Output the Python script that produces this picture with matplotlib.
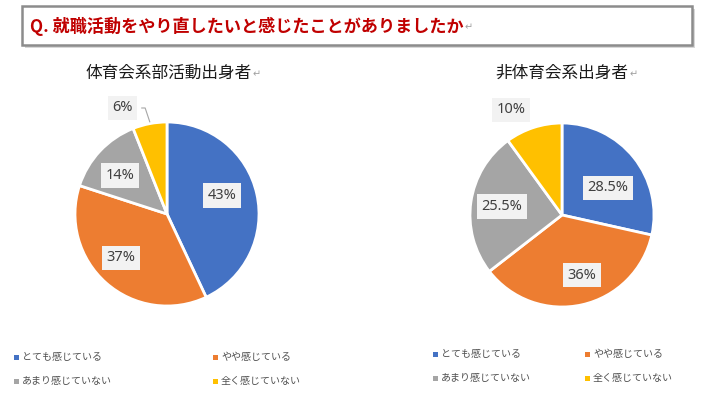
import numpy as np
import matplotlib
matplotlib.use("Agg")
import matplotlib.pyplot as plt
from matplotlib.patches import Rectangle

plt.rcParams['font.family'] = ['Noto Sans CJK JP', 'DejaVu Sans']

title = "Q. 就職活動をやり直したいと感じたことがありましたか"
categories = ["とても感じている", "やや感じている", "あまり感じていない", "全く感じていない"]
colors = ["#4472C4", "#ED7D31", "#A5A5A5", "#FFC000"]
left_title = "体育会系部活動出身者"
left_values = [43, 37, 14, 6]
right_title = "非体育会系出身者"
right_values = [28.5, 36, 25.5, 10]

W, H = 710, 399
fig = plt.figure(figsize=(W / 100, H / 100), dpi=100)
fig.patch.set_facecolor("white")

def fx(x):
    return x / W

def fy(y):
    return 1 - y / H

# Title box with shadow
bg = fig.add_axes([0, 0, 1, 1])
bg.set_xlim(0, W)
bg.set_ylim(H, 0)
bg.axis("off")
bg.add_patch(Rectangle((25, 9), 670, 39, facecolor="#BFBFBF", edgecolor="none", alpha=0.6, zorder=1))
bg.add_patch(Rectangle((22, 6), 670, 39, facecolor="white", edgecolor="#8C8C8C", linewidth=1.8, zorder=2))
t = bg.text(30, 26, title, color="#C00000", fontsize=12.3, fontweight="bold", va="center", ha="left", zorder=3)
bg.annotate("↵", xy=(1, 0.45), xycoords=t, xytext=(1, 0), textcoords="offset points",
            color="#A0A0A0", fontsize=7, va="center", ha="left", zorder=3)


def draw_pie(cx, cy, r, values, sub, sub_x, label_r, outside_idx, leader):
    ax = fig.add_axes([fx(cx - r), fy(cy + r), 2 * r / W, 2 * r / H])
    wedges, _ = ax.pie(values, colors=colors, startangle=90, counterclock=False,
                       wedgeprops=dict(edgecolor="white", linewidth=2), radius=1)
    ax.set_xlim(-1, 1)
    ax.set_ylim(-1, 1)
    ax.set_aspect("equal")
    ax.axis("off")
    for i, (w, v) in enumerate(zip(wedges, values)):
        ang = np.deg2rad((w.theta1 + w.theta2) / 2)
        rr, dang = label_r[i]
        a2 = ang + np.deg2rad(dang)
        x, y = rr * np.cos(a2), rr * np.sin(a2)
        ax.text(x, y, f"{v:g}%", ha="center", va="center", fontsize=10.5,
                family=["Noto Sans", "DejaVu Sans"], color="#404040",
                bbox=dict(boxstyle="square,pad=0.32", facecolor="#F2F2F2", edgecolor="none"),
                clip_on=False, zorder=5)
        if i == outside_idx and leader:
            ex, ey = 1.0 * np.cos(ang), 1.0 * np.sin(ang)
            ax.plot([x + 0.21, ex - 0.05, ex], [y, y, ey + 0.02], color="#A6A6A6",
                    linewidth=0.8, clip_on=False, zorder=4)
    st = fig.text(fx(sub_x), fy(73), sub, ha="center", va="center", fontsize=12, color="#1A1A1A")
    bg.annotate("↵", xy=(1, 0.45), xycoords=st, xytext=(0.5, 0), textcoords="offset points",
                color="#A0A0A0", fontsize=7, va="center", ha="left")
    return ax


draw_pie(167, 214, 92, left_values, left_title, 169,
         [(0.63, 6), (0.69, -5), (0.66, 4), (1.25, 12)], 3, True)
draw_pie(562, 215, 92, right_values, right_title, 562,
         [(0.58, -8), (0.69, 6), (0.66, 0), (1.27, 8)], 3, False)


def draw_legend(x0, x1, y0, y1):
    pos = [(x0, y0), (x1, y0), (x0, y1), (x1, y1)]
    for (x, y), c, lab in zip(pos, colors, categories):
        bg.add_patch(Rectangle((x - 2.5, y - 2.5), 5, 5, facecolor=c, edgecolor="none"))
        bg.text(x + 6, y, lab, fontsize=7.2, color="#505050", va="center", ha="left")


draw_legend(16, 215, 357, 381)
draw_legend(435, 587, 354, 378)

fig.savefig("out.png", dpi=100)
